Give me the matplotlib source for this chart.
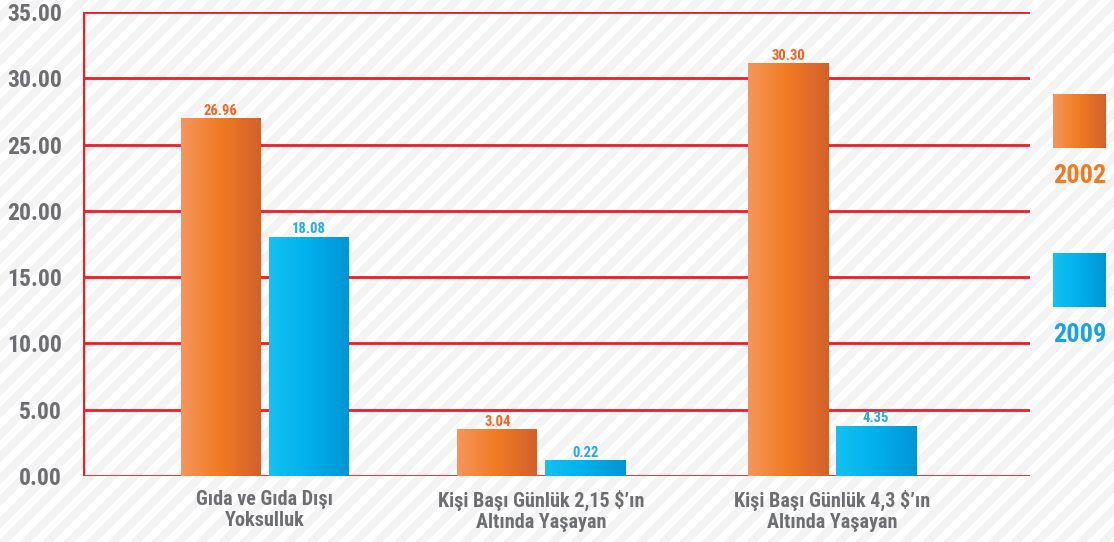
import numpy as np
import matplotlib.pyplot as plt
from matplotlib import font_manager
from matplotlib.font_manager import FontProperties
from matplotlib.colors import LinearSegmentedColormap

# data
categories = ['Gıda ve Gıda Dışı\nYoksulluk',
              'Kişi Başı Günlük 2,15 $\u2019ın\nAltında Yaşayan',
              'Kişi Başı Günlük 4,3 $\u2019ın\nAltında Yaşayan']
series_names = ['2002', '2009']
labels_2002 = [26.96, 3.04, 30.30]
labels_2009 = [18.08, 0.22, 4.35]
# bar heights as drawn in the picture
heights_2002 = [26.95, 3.5, 31.1]
heights_2009 = [18.0, 1.15, 3.77]
yticks = [0, 5, 10, 15, 20, 25, 30, 35]

# look for a condensed bold face, else fall back to Roboto
cands = []
for f in font_manager.fontManager.ttflist:
    nm = f.fname.lower()
    if ('condensed' in nm or 'narrow' in nm or f.stretch in ('condensed', 'semi-condensed')) \
            and f.weight in (700, 'bold') and 'oblique' not in nm and 'italic' not in nm:
        cands.append(f.fname)
cands.sort(key=lambda p: 0 if 'roboto' in p.lower() else 1 if 'liberation' in p.lower() else 2)
if cands:
    fp = FontProperties(fname=cands[0])
    scale = 1.0
else:
    fp = FontProperties(family='Roboto', weight='bold')
    scale = 0.86


def font(size):
    p = fp.copy()
    p.set_size(size * scale)
    return p


W, H = 1114, 542
fig = plt.figure(figsize=(W / 100, H / 100), dpi=100)

# striped background
bg = fig.add_axes([0, 0, 1, 1])
yy, xx = np.mgrid[0:H, 0:W]
stripes = ((xx + yy) % 22) < 11
bg.imshow(np.where(stripes, 1.0, 0.957), cmap='gray', vmin=0, vmax=1,
          aspect='auto', interpolation='nearest')
bg.axis('off')

ax = fig.add_axes([83 / W, 66 / H, 947 / W, 464 / H])
ax.patch.set_alpha(0)

red = '#ee1c25'
grey = '#6d6e71'
orange = '#f07a22'
blue = '#1aa3df'

for t in yticks:
    ax.axhline(t, color=red, lw=2, zorder=1)
ax.axvline(0, color=red, lw=2.4, zorder=1)
for s in ax.spines.values():
    s.set_visible(False)

orange_cm = LinearSegmentedColormap.from_list('o', ['#f5965a', '#f07a22', '#d2612b'])
blue_cm = LinearSegmentedColormap.from_list('b', ['#12c2f2', '#00b0eb', '#0095d4'])
grad = np.linspace(0, 1, 256).reshape(1, -1)

centers = [0.192, 0.484, 0.791]
bw = 80 / 947
off = 44 / 947


def gbar(x, h, cmap):
    ax.imshow(grad, cmap=cmap, aspect='auto', extent=[x - bw / 2, x + bw / 2, 0, h],
              zorder=2, interpolation='bilinear')


for i, c in enumerate(centers):
    gbar(c - off, heights_2002[i], orange_cm)
    gbar(c + off, heights_2009[i], blue_cm)
    ax.annotate(f'{labels_2002[i]:.2f}', (c - off, heights_2002[i]), xytext=(0, 2.8),
                textcoords='offset points', ha='center', va='baseline',
                color='#f26522', fontproperties=font(10.5), zorder=3)
    ax.annotate(f'{labels_2009[i]:.2f}', (c + off, heights_2009[i]), xytext=(0, 2.8),
                textcoords='offset points', ha='center', va='baseline',
                color='#27a9e1', fontproperties=font(10.5), zorder=3)
ax.set_xlim(0, 1)
ax.set_ylim(0, 35)

ax.set_yticks(yticks)
ax.set_yticklabels([f'{t:.2f}' for t in yticks], color=grey, fontproperties=font(17))
ax.set_xticks(centers)
ax.set_xticklabels(categories, color=grey, fontproperties=font(14.5), linespacing=1.15)
ax.tick_params(length=0, pad=10)
ax.tick_params(axis='y', pad=15)

# legend
lx = 1053 / W
for (y0, col, cm, name) in [(394, orange, orange_cm, series_names[0]),
                            (235, blue, blue_cm, series_names[1])]:
    la = fig.add_axes([lx, y0 / H, 53 / W, 54 / H])
    la.imshow(grad, cmap=cm, aspect='auto', interpolation='bilinear')
    la.axis('off')
    fig.text(lx + 26.5 / W, (y0 - 28) / H, name, ha='center', va='center',
             color=col, fontproperties=font(19))

fig.savefig('out.png', dpi=100)
